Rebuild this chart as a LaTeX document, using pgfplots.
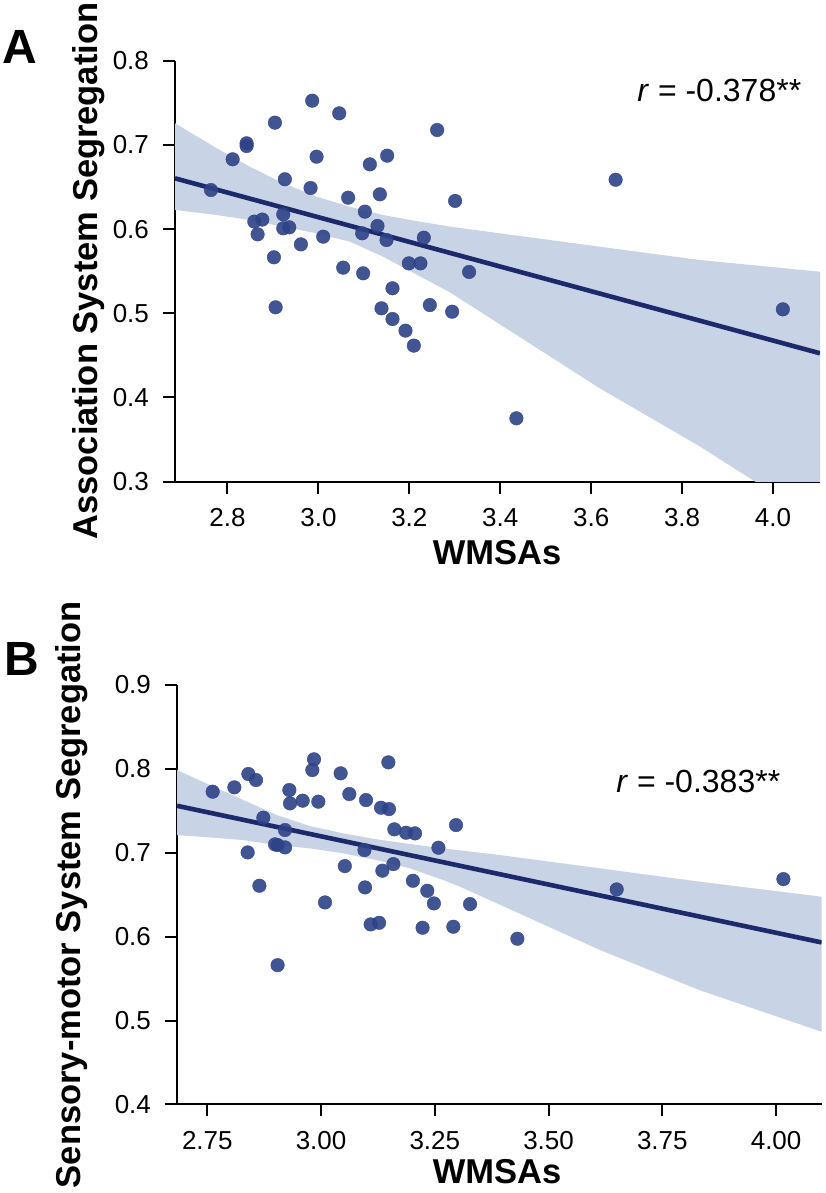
\documentclass[border=0pt]{standalone}
\usepackage{fontspec}
\setmainfont{Liberation Sans}
\usepackage{pgfplots}
\pgfplotsset{compat=1.18}
\newlength\px \setlength\px{0.5pt}
\definecolor{ptc}{RGB}{46,66,135}
\definecolor{lnc}{RGB}{28,42,108}
\definecolor{bandc}{RGB}{201,211,230}
\pgfplotsset{
  myax/.style={
    scale only axis, anchor=south west,
    axis x line*=bottom, axis y line*=left,
    axis line style={line width=1pt, black},
    every tick/.style={line width=1pt, black},
    major tick length=6pt,
    tick align=outside,
    /pgf/number format/assume math mode=true,
    tick label style={font=\fontsize{13}{15}\selectfont},
    yticklabel style={xshift=-3.5pt},
    xticklabel style={yshift=-4pt},
    clip=true,
  },
  pts/.style={only marks, color=ptc, mark=*, mark size=3.4pt, mark options={fill=ptc, draw=ptc, line width=0.2pt, fill opacity=0.9, draw opacity=0.9}},
  regl/.style={lnc, line width=2.3pt, no marks},
  band/.style={fill=bandc, draw=none, no marks},
}
\begin{document}
\begin{tikzpicture}
\useasboundingbox (0,0) rectangle (825\px,1193\px);
% ---------------- Panel A ----------------
\begin{axis}[myax, at={(175\px,711.3\px)}, width=645\px, height=421\px,
  xmin=2.6846, xmax=4.1033, ymin=0.3, ymax=0.8,
  xtick={2.8,3.0,3.2,3.4,3.6,3.8,4.0},
  ytick={0.3,0.4,0.5,0.6,0.7,0.8},
  xticklabel style={/pgf/number format/.cd,fixed,fixed zerofill,precision=1},
  yticklabel style={/pgf/number format/.cd,fixed,fixed zerofill,precision=1},
]
\addplot[band] coordinates {
(2.6846,0.7257) (2.7763,0.6960) (2.8495,0.6741) (2.9227,0.6544) (2.9960,0.6385)
(3.0692,0.6266) (3.1424,0.6167) (3.2158,0.6095) (3.2890,0.6030) (3.3990,0.5950)
(3.6187,0.5791) (3.8385,0.5633) (4.1033,0.5494)
(4.1033,0.2500) (3.9667,0.2980) (3.8385,0.3420) (3.6187,0.4110) (3.3990,0.4870)
(3.2890,0.5250) (3.2158,0.5460) (3.1424,0.5672) (3.0692,0.5850) (2.9960,0.5950)
(2.9227,0.6028) (2.8495,0.6108) (2.7763,0.6167) (2.6846,0.6227)
} --cycle;
\addplot[pts] table {
x y
2.7637 0.6464
2.8114 0.6829
2.8421 0.7019
2.8421 0.6987
2.9044 0.7264
2.9864 0.7525
3.0458 0.7375
2.9960 0.6860
2.9263 0.6592
2.9828 0.6488
2.8590 0.6089
2.8766 0.6113
2.8663 0.5938
2.9227 0.6175
2.9227 0.6009
2.9359 0.6021
2.9615 0.5819
3.0106 0.5910
2.9022 0.5665
2.9059 0.5071
3.0655 0.6373
3.1022 0.6207
3.1132 0.6769
3.1513 0.6872
3.1352 0.6413
3.0963 0.5950
3.1300 0.6037
3.1498 0.5870
3.0546 0.5542
3.0985 0.5475
3.1630 0.5297
3.1388 0.5059
3.1630 0.4932
3.1916 0.4794
3.2099 0.4616
3.2612 0.7177
3.2319 0.5898
3.1989 0.5593
3.2245 0.5593
3.6538 0.6586
3.3007 0.6335
3.3315 0.5491
3.2451 0.5098
3.2942 0.5019
3.4355 0.3753
4.0216 0.5047
};
\addplot[regl] coordinates {(2.6846,0.6603) (4.1033,0.4525)};
\end{axis}
% ---------------- Panel B ----------------
\begin{axis}[myax, at={(177\px,88.6\px)}, width=644.6\px, height=419.4\px,
  xmin=2.6834, xmax=4.1, ymin=0.4, ymax=0.9,
  xtick={2.75,3.00,3.25,3.50,3.75,4.00},
  ytick={0.4,0.5,0.6,0.7,0.8,0.9},
  xticklabel style={/pgf/number format/.cd,fixed,fixed zerofill,precision=2},
  yticklabel style={/pgf/number format/.cd,fixed,fixed zerofill,precision=1},
]
\addplot[band] coordinates {
(2.6834,0.7986) (2.7559,0.7807) (2.8292,0.7629) (2.9025,0.7450) (2.9757,0.7318)
(3.0490,0.7231) (3.1222,0.7160) (3.1955,0.7104) (3.2688,0.7052) (3.3933,0.6973)
(3.6130,0.6814) (3.8328,0.6655) (4.1000,0.6476)
(4.1000,0.4866) (3.8328,0.5360) (3.6130,0.5840) (3.3933,0.6380) (3.3054,0.6595)
(3.2688,0.6674) (3.1955,0.6814) (3.1222,0.6913) (3.0490,0.6993) (2.9757,0.7052)
(2.9025,0.7092) (2.8292,0.7151) (2.7559,0.7183) (2.6834,0.7211)
} --cycle;
\addplot[pts] table {
x y
2.7618 0.7728
2.8094 0.7780
2.8402 0.7939
2.8570 0.7867
2.8731 0.7418
2.8387 0.7004
2.8644 0.6607
2.8988 0.7100
2.9047 0.7092
2.9208 0.7271
2.9208 0.7064
2.9303 0.7748
2.9318 0.7589
2.9596 0.7621
2.9940 0.7609
2.9845 0.8114
2.9808 0.7986
3.0431 0.7947
3.0621 0.7700
3.0988 0.7628
3.1479 0.8078
3.1318 0.7537
3.1493 0.7521
3.1610 0.7279
3.1867 0.7239
3.2065 0.7231
3.2579 0.7060
3.0954 0.7032
3.0522 0.6841
3.1589 0.6865
3.1347 0.6786
3.0087 0.6408
3.0966 0.6587
3.2019 0.6666
3.2334 0.6547
3.2480 0.6396
3.1091 0.6146
3.1275 0.6165
3.2231 0.6106
3.2966 0.7330
3.6497 0.6563
4.0160 0.6686
3.3274 0.6388
3.2907 0.6118
3.4314 0.5975
2.9045 0.5660
};
\addplot[regl] coordinates {(2.6834,0.7560) (4.1,0.5931)};
\end{axis}
% ---------------- Texts ----------------
\node[font=\fontsize{24}{28}\selectfont\bfseries] at (19.5\px,1145.5\px) {A};
\node[font=\fontsize{24}{28}\selectfont\bfseries] at (21.5\px,534.5\px) {B};
\node[font=\fontsize{17.25}{20}\selectfont\bfseries, rotate=90, anchor=base, inner sep=0pt] at (97\px,922\px) {Association System Segregation};
\node[font=\fontsize{17.25}{20}\selectfont\bfseries, rotate=90, anchor=base, inner sep=0pt] at (80\px,298.3\px) {Sensory-motor System Segregation};
\node[font=\fontsize{17.25}{20}\selectfont\bfseries] at (497\px,640\px) {WMSAs};
\node[font=\fontsize{17.25}{20}\selectfont\bfseries] at (497\px,21\px) {WMSAs};
\node[font=\fontsize{16}{19}\selectfont, anchor=base west, inner sep=0pt] at (637\px,1091.3\px) {\textit{r} = -0.378**};
\node[font=\fontsize{16}{19}\selectfont, anchor=base west, inner sep=0pt] at (616\px,400\px) {\textit{r} = -0.383**};
\end{tikzpicture}
\end{document}
